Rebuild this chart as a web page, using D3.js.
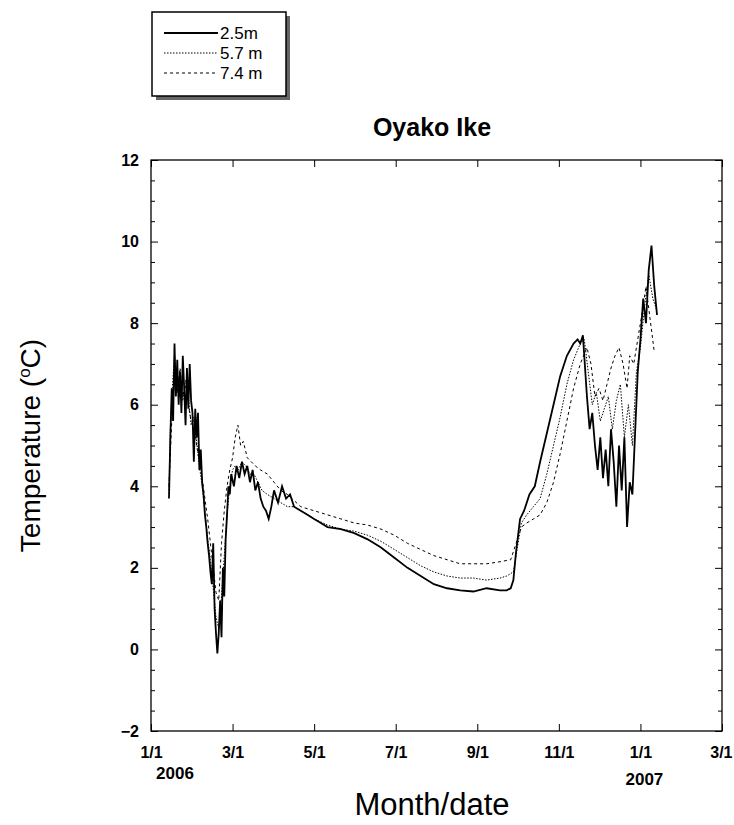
<!DOCTYPE html>
<html><head><meta charset="utf-8">
<script src="https://cdn.jsdelivr.net/npm/d3@7"></script>
<style>body{margin:0;background:#fff}svg{font-family:"Liberation Sans",Arial,sans-serif}
.ax text{font-size:16px !important;font-weight:bold;fill:#000}</style>
</head><body><div id="chart"></div>
<script>
// days after 1 Jan 2006, temperature in deg C
var days25 = [13,14,15,16,17,18,19,20,21,22,23,24,25,26,27,28,29,30,31,32,33,34,35,36,37,38,39,40,41,42,43,44,45,46,47,48,49,50,51,52,53,54,55,56,57,58,60,62,64,66,68,70,72,74,76,78,80,82,84,86,88,90,93,96,99,102,105,110,115,120,125,130,140,150,160,170,180,190,200,210,220,230,240,250,260,265,268,270,272,275,278,282,286,290,295,300,305,310,315,318,320,322,325,327,329,331,333,335,337,339,341,343,345,347,349,351,353,355,357,359,361,363,365,367,369,371,373,375,377];
var temp25 = [3.7,5.2,6.4,5.6,7.5,6.2,7.1,6.0,6.8,5.8,7.2,6.4,5.5,6.9,5.9,7.0,6.1,5.8,4.6,5.9,5.2,5.8,4.4,4.9,4.1,3.8,3.3,3.0,2.6,2.3,1.9,1.6,2.6,1.0,0.4,-0.1,0.4,1.2,0.3,2.0,1.3,2.7,3.3,4.0,3.8,4.3,4.0,4.5,4.2,4.6,4.3,4.5,4.1,4.4,3.9,4.1,3.7,3.5,3.4,3.2,3.5,3.9,3.6,4.0,3.7,3.8,3.5,3.4,3.3,3.2,3.1,3.0,2.95,2.85,2.7,2.5,2.25,2.0,1.8,1.6,1.5,1.45,1.42,1.5,1.45,1.45,1.5,1.7,2.4,3.2,3.4,3.8,4.0,4.6,5.3,6.0,6.7,7.2,7.5,7.6,7.5,7.7,6.2,5.4,5.8,5.0,4.4,5.2,4.2,4.9,4.0,5.4,4.6,3.5,5.0,3.9,5.2,3.0,4.1,3.8,5.3,6.8,7.6,8.6,8.0,9.3,9.9,8.9,8.2];
var days57 = [13,14,15,17,19,21,23,25,27,29,31,33,35,37,39,41,43,45,47,49,51,53,55,57,59,61,63,66,69,72,75,78,81,85,90,95,100,105,110,120,130,140,150,160,170,180,190,200,210,220,230,240,250,260,265,270,273,276,280,285,290,295,300,305,310,315,320,323,326,329,332,335,338,341,344,347,350,353,356,359,362,365,368,371,374,377];
var temp57 = [3.9,5.4,6.2,7.2,6.3,6.8,6.1,6.6,6.2,5.5,5.7,5.1,4.5,4.0,3.4,2.7,2.2,1.5,0.8,0.5,1.3,2.3,3.3,4.0,4.4,4.5,4.4,4.6,4.5,4.3,4.3,4.1,3.9,3.8,3.7,3.6,3.5,3.5,3.4,3.2,3.05,2.95,2.9,2.8,2.65,2.45,2.25,2.05,1.9,1.8,1.75,1.75,1.7,1.75,1.8,1.9,2.5,3.1,3.3,3.5,3.7,4.3,5.0,5.7,6.5,7.1,7.5,7.6,6.8,6.0,6.3,5.6,5.9,6.2,5.4,6.1,6.5,5.2,6.0,5.0,6.8,7.4,8.4,9.2,8.6,8.3];
var days74 = [13,15,17,19,21,23,25,27,29,31,33,35,37,39,41,43,45,47,49,51,53,55,57,59,61,63,65,67,70,73,76,80,85,90,95,100,110,120,130,140,150,160,170,180,190,200,210,220,230,240,250,260,268,272,276,280,285,290,295,300,305,310,315,320,325,328,331,334,337,340,343,346,349,352,355,357,360,363,366,369,372,375];
var temp74 = [4.0,5.6,6.6,6.3,6.9,6.2,6.5,6.0,5.6,5.6,5.0,4.6,4.2,3.7,3.2,2.6,2.0,1.4,1.2,2.6,3.4,4.0,4.4,4.7,5.2,5.5,5.0,5.1,4.7,4.6,4.5,4.4,4.3,4.1,3.9,3.8,3.5,3.4,3.3,3.2,3.1,3.05,2.95,2.8,2.6,2.45,2.3,2.2,2.1,2.1,2.1,2.15,2.2,2.6,3.0,3.1,3.2,3.3,3.6,4.1,4.8,5.6,6.4,7.0,7.4,7.0,6.2,6.4,6.1,6.5,6.9,7.2,7.4,7.0,6.4,7.2,7.0,7.6,8.2,8.9,8.1,7.3];
var xTickLabels = ["1/1","3/1","5/1","7/1","9/1","11/1","1/1","3/1"];
var yTicks = [-2,0,2,4,6,8,10,12];
var series = [
  {name:"2.5m", days:days25, temps:temp25, dash:null, width:1.8},
  {name:"5.7 m", days:days57, temps:temp57, dash:"1.5,1.5", width:1},
  {name:"7.4 m", days:days74, temps:temp74, dash:"3,3", width:1}
];

var W = 734, H = 825;
var pL = 151, pR = 722, pT = 160, pB = 731;
var t0 = new Date(2006,0,1);
var tickDates = d3.range(8).map(function(i){ return new Date(2006, i*2, 1); });

var svg = d3.select("#chart").append("svg").attr("width",W).attr("height",H);
// equal spacing between the bimonthly ticks, like the original
var x = d3.scaleTime().domain(tickDates).range(tickDates.map(function(d,i){ return pL + i*(pR-pL)/7; }));
var y = d3.scaleLinear().domain([-2,12]).range([pB, pT]);
function dayDate(n){ return d3.timeDay.offset(t0, n); }

// frame
svg.append("rect").attr("x",pL).attr("y",pT).attr("width",pR-pL).attr("height",pB-pT)
  .attr("fill","none").attr("stroke","#000").attr("stroke-width",1.3);

// y axes
var minor = d3.range(-2,12.01,0.5).filter(function(v){ return v%2!==0; });
var gy = svg.append("g").attr("class","ax").attr("transform","translate("+pL+",0)")
  .call(d3.axisLeft(y).tickValues(yTicks).tickSize(-7).tickPadding(12).tickFormat(d3.format("d")));
gy.select(".domain").remove();
svg.append("g").attr("transform","translate("+pL+",0)").call(d3.axisLeft(y).tickValues(minor).tickSize(-4).tickFormat("")).select(".domain").remove();
svg.append("g").attr("transform","translate("+pR+",0)").call(d3.axisRight(y).tickValues(yTicks).tickSize(-7).tickFormat("")).select(".domain").remove();
svg.append("g").attr("transform","translate("+pR+",0)").call(d3.axisRight(y).tickValues(minor).tickSize(-4).tickFormat("")).select(".domain").remove();

// x axes
var gx = svg.append("g").attr("class","ax").attr("transform","translate(0,"+pB+")")
  .call(d3.axisBottom(x).tickValues(tickDates).tickSize(-7).tickPadding(16).tickFormat(function(d,i){ return xTickLabels[i]; }));
gx.select(".domain").remove();
gx.selectAll(".tick:last-of-type text").attr("text-anchor","end").attr("dx","10");
svg.append("g").attr("transform","translate(0,"+pT+")")
  .call(d3.axisTop(x).tickValues(tickDates).tickSize(-7).tickFormat("")).select(".domain").remove();

svg.append("text").attr("x",x(tickDates[0])+24).attr("y",pB+48).attr("text-anchor","middle").style("font-size","17px").attr("font-weight","bold").text("2006");
svg.append("text").attr("x",x(tickDates[6])+4).attr("y",pB+54).attr("text-anchor","middle").style("font-size","17px").attr("font-weight","bold").text("2007");

// lines
var line = d3.line().x(function(d){ return x(dayDate(d[0])); }).y(function(d){ return y(d[1]); });
series.forEach(function(s){
  var pts = s.days.map(function(d,i){ return [d, s.temps[i]]; });
  svg.append("path").datum(pts).attr("d",line).attr("fill","none").attr("stroke","#000")
    .attr("stroke-width",s.width).attr("stroke-dasharray",s.dash);
});

// titles
svg.append("text").attr("x",432).attr("y",136).attr("text-anchor","middle").style("font-size","25px").attr("font-weight","bold").text("Oyako Ike");
svg.append("text").attr("x",432).attr("y",815).attr("text-anchor","middle").style("font-size","31px").text("Month/date");
svg.append("text").attr("transform","translate(40,"+((pT+pB)/2)+") rotate(-90)").attr("text-anchor","middle").style("font-size","28px")
  .html('Temperature (<tspan dy="-10" font-size="17">o</tspan><tspan dy="10">C)</tspan>');

// legend
var lg = svg.append("g").attr("transform","translate(152,12)");
lg.append("rect").attr("x",4).attr("y",4).attr("width",134).attr("height",84).attr("fill","#666");
lg.append("rect").attr("x",0).attr("y",0).attr("width",134).attr("height",84).attr("fill","#fff").attr("stroke","#000").attr("stroke-width",1.5);
series.forEach(function(s,i){
  var yy = 21 + i*20;
  lg.append("line").attr("x1",12).attr("x2",66).attr("y1",yy).attr("y2",yy).attr("stroke","#000")
    .attr("stroke-width",s.width).attr("stroke-dasharray",s.dash);
  lg.append("text").attr("x",68).attr("y",yy+6).style("font-size","17px").text(s.name);
});
</script></body></html>
